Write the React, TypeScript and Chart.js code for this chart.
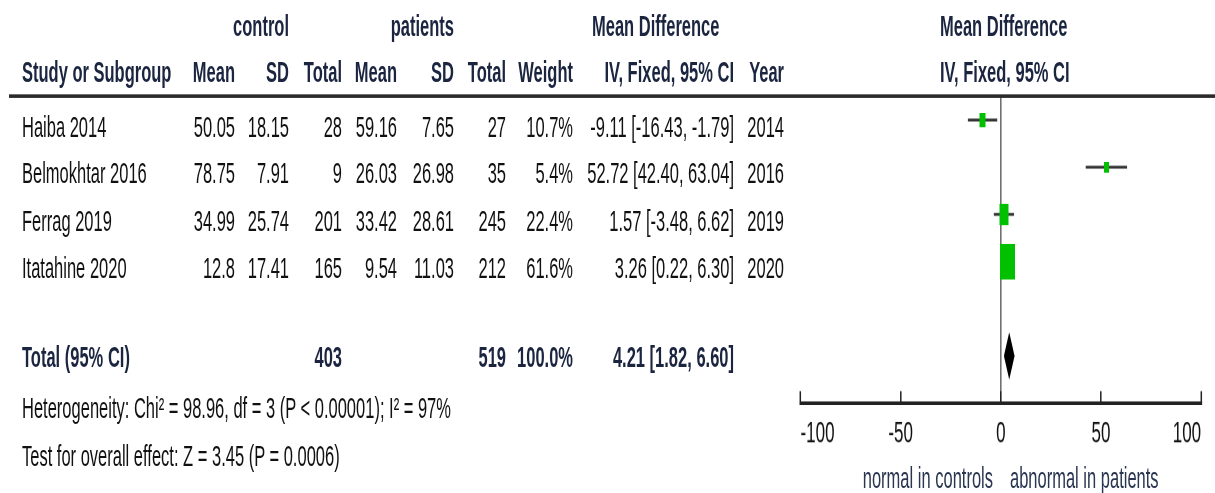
import React, { useEffect, useRef } from "react";
import { Chart, registerables } from "chart.js";

Chart.register(...registerables);

// ---------------- data ----------------
const studies = ["Haiba 2014", "Belmokhtar 2016", "Ferrag 2019", "Itatahine 2020"];
const controlMean = [50.05, 78.75, 34.99, 12.8];
const controlSD = [18.15, 7.91, 25.74, 17.41];
const controlTotal = [28, 9, 201, 165];
const patientMean = [59.16, 26.03, 33.42, 9.54];
const patientSD = [7.65, 26.98, 28.61, 11.03];
const patientTotal = [27, 35, 245, 212];
const weights = [10.7, 5.4, 22.4, 61.6];
const meanDiff = [-9.11, 52.72, 1.57, 3.26];
const ciLow = [-16.43, 42.4, -3.48, 0.22];
const ciHigh = [-1.79, 63.04, 6.62, 6.3];
const years = [2014, 2016, 2019, 2020];

const totalLabel = "Total (95% CI)";
const totalControl = 403;
const totalPatients = 519;
const totalWeight = 100.0;
const pooledMD = 4.21;
const pooledLow = 1.82;
const pooledHigh = 6.6;

const xTicks = [-100, -50, 0, 50, 100];
const heterogeneityText = "Heterogeneity: Chi² = 98.96, df = 3 (P < 0.00001); I² = 97%";
const overallEffectText = "Test for overall effect: Z = 3.45 (P = 0.0006)";
const favoursLeft = "normal in controls";
const favoursRight = "abnormal in patients";

// ---------------- layout ----------------
const FONT = '"Liberation Sans", Arial, Helvetica, sans-serif';
const S = 1.78; // vertical stretch of the whole figure
const W = 1215;
const H = 493;
const CH = H / S;
const FS = 16.5;
const TICK_FS = 17;
const HEAD = "#1b2540";
const GREEN = "#00c000";
const Y_MIN = 0.5;
const Y_MAX = 7;
const AREA_TOP = 96.5; // real px
const AXIS_Y = 403; // real px
const ROW_STEP = (AXIS_Y - AREA_TOP) / (Y_MAX - Y_MIN);
const rowY = (u: number) => AREA_TOP + (u - Y_MIN) * ROW_STEP;
const TOTAL_ROW = studies.length + 2;

const fmt2 = (v: number) => v.toFixed(2);
const ciText = (m: number, l: number, h: number) => `${fmt2(m)} [${fmt2(l)}, ${fmt2(h)}]`;

function Txt(props: {
  x: number;
  y: number;
  align?: "left" | "right";
  bold?: boolean;
  color?: string;
  size?: number;
  children: React.ReactNode;
}) {
  const { x, y, align = "left", bold = false, color = "#111", size = FS, children } = props;
  const style: React.CSSProperties = {
    position: "absolute",
    top: y / S - 0.488 * size,
    whiteSpace: "nowrap",
    fontFamily: FONT,
    fontSize: size,
    lineHeight: `${size}px`,
    fontWeight: bold ? 700 : 400,
    color,
  };
  if (align === "right") style.right = W - x;
  else style.left = x;
  return <div style={style}>{children}</div>;
}

// column right edges (real px)
const COL = {
  name: 22,
  cMean: 235,
  cSD: 289,
  cTotal: 342,
  pMean: 397,
  pSD: 454,
  pTotal: 506,
  weight: 573,
  ci: 734,
  year: 784,
};

export default function App() {
  const ref = useRef<HTMLCanvasElement>(null);

  useEffect(() => {
    if (!ref.current) return;
    const boxImgs = weights.map((w) => {
      const bw = 1.95 * Math.sqrt(w);
      const c = document.createElement("canvas");
      c.width = Math.max(2, Math.round(bw));
      c.height = Math.max(2, Math.round((bw * 2.3) / S));
      const g = c.getContext("2d")!;
      g.fillStyle = GREEN;
      g.fillRect(0, 0, c.width, c.height);
      return c;
    });

    const ciSets: any[] = studies.map((s, i) => ({
      type: "line",
      label: s + " CI",
      data: [
        { x: ciLow[i], y: i + 1 },
        { x: ciHigh[i], y: i + 1 },
      ],
      borderColor: "#333",
      borderWidth: 1.7,
      pointRadius: 0,
      fill: false,
      order: 2,
    }));

    const boxSet: any = {
      type: "scatter",
      label: "Mean difference",
      data: meanDiff.map((m, i) => ({ x: m, y: i + 1 })),
      pointStyle: boxImgs,
      pointRadius: 3,
      showLine: false,
      order: 0,
    };

    const diamondSet: any = {
      type: "line",
      label: "Total",
      data: [
        { x: pooledLow, y: TOTAL_ROW },
        { x: pooledMD, y: TOTAL_ROW - 0.45 },
        { x: pooledHigh, y: TOTAL_ROW },
        { x: pooledMD, y: TOTAL_ROW + 0.45 },
        { x: pooledLow, y: TOTAL_ROW },
      ],
      borderColor: "#000",
      backgroundColor: "#000",
      borderWidth: 1,
      pointRadius: 0,
      fill: "shape",
      order: 1,
    };

    const chart = new Chart(ref.current, {
      type: "scatter",
      data: { datasets: [...ciSets, boxSet, diamondSet] },
      options: {
        animation: false,
        responsive: true,
        maintainAspectRatio: false,
        devicePixelRatio: 2,
        events: [],
        layout: { padding: { left: 800.5, right: W - 1205, top: AREA_TOP / S, bottom: 0 } },
        plugins: { legend: { display: false }, tooltip: { enabled: false } },
        scales: {
          x: {
            type: "linear",
            position: "bottom",
            min: -100,
            max: 100,
            afterBuildTicks: (s: any) => {
              s.ticks = xTicks.map((v) => ({ value: v }));
            },
            afterFit: (s: any) => {
              s.height = CH - AXIS_Y / S;
            },
            ticks: {
              align: "inner",
              padding: 17.4 + 6.7 - 0.6 * TICK_FS,
              autoSkip: false,
              maxRotation: 0,
              color: "#111",
              font: { family: FONT, size: TICK_FS },
            },
            grid: {
              drawOnChartArea: true,
              color: (c: any) => (c.tick && c.tick.value === 0 ? "#707070" : "rgba(0,0,0,0)"),
              lineWidth: 1.6,
              drawTicks: true,
              tickLength: -6.7,
              tickColor: "#222",
              tickWidth: 1.5,
            },
            border: { display: true, color: "#222", width: 2 },
          },
          y: {
            type: "linear",
            display: false,
            reverse: true,
            min: Y_MIN,
            max: Y_MAX,
          },
        },
      } as any,
    });
    return () => chart.destroy();
  }, []);

  const rowText = (i: number) => rowY(i + 1) + 6;
  const totalY = rowY(TOTAL_ROW) + 1;

  return (
    <div style={{ position: "absolute", left: 0, top: 0, width: W, height: H, overflow: "hidden", background: "#fff" }}>
      <div
        style={{
          position: "absolute",
          left: 0,
          top: 0,
          width: W,
          height: CH,
          transform: `scaleY(${S})`,
          transformOrigin: "0 0",
        }}
      >
        <div style={{ position: "absolute", left: 0, top: 0, width: W, height: CH }}>
          <canvas ref={ref} />
        </div>

        {/* header rule */}
        <div
          style={{
            position: "absolute",
            left: 9,
            width: W - 9,
            top: 94.8 / S,
            height: 3.4 / S,
            background: "#2a2a2a",
          }}
        />

        {/* header row 1 */}
        <Txt x={COL.cSD} y={25} align="right" bold color={HEAD}>control</Txt>
        <Txt x={COL.pSD} y={25} align="right" bold color={HEAD}>patients</Txt>
        <Txt x={592} y={25} bold color={HEAD}>Mean Difference</Txt>
        <Txt x={940} y={25} bold color={HEAD}>Mean Difference</Txt>

        {/* header row 2 */}
        <Txt x={COL.name} y={72} bold color={HEAD}>Study or Subgroup</Txt>
        <Txt x={COL.cMean} y={72} align="right" bold color={HEAD}>Mean</Txt>
        <Txt x={COL.cSD} y={72} align="right" bold color={HEAD}>SD</Txt>
        <Txt x={COL.cTotal} y={72} align="right" bold color={HEAD}>Total</Txt>
        <Txt x={COL.pMean} y={72} align="right" bold color={HEAD}>Mean</Txt>
        <Txt x={COL.pSD} y={72} align="right" bold color={HEAD}>SD</Txt>
        <Txt x={COL.pTotal} y={72} align="right" bold color={HEAD}>Total</Txt>
        <Txt x={COL.weight} y={72} align="right" bold color={HEAD}>Weight</Txt>
        <Txt x={COL.ci} y={72} align="right" bold color={HEAD}>IV, Fixed, 95% CI</Txt>
        <Txt x={COL.year} y={72} align="right" bold color={HEAD}>Year</Txt>
        <Txt x={940} y={72} bold color={HEAD}>IV, Fixed, 95% CI</Txt>

        {/* study rows */}
        {studies.map((s, i) => (
          <React.Fragment key={s}>
            <Txt x={COL.name} y={rowText(i)}>{s}</Txt>
            <Txt x={COL.cMean} y={rowText(i)} align="right">{String(controlMean[i])}</Txt>
            <Txt x={COL.cSD} y={rowText(i)} align="right">{String(controlSD[i])}</Txt>
            <Txt x={COL.cTotal} y={rowText(i)} align="right">{String(controlTotal[i])}</Txt>
            <Txt x={COL.pMean} y={rowText(i)} align="right">{String(patientMean[i])}</Txt>
            <Txt x={COL.pSD} y={rowText(i)} align="right">{String(patientSD[i])}</Txt>
            <Txt x={COL.pTotal} y={rowText(i)} align="right">{String(patientTotal[i])}</Txt>
            <Txt x={COL.weight} y={rowText(i)} align="right">{weights[i].toFixed(1) + "%"}</Txt>
            <Txt x={COL.ci} y={rowText(i)} align="right">{ciText(meanDiff[i], ciLow[i], ciHigh[i])}</Txt>
            <Txt x={COL.year} y={rowText(i)} align="right">{String(years[i])}</Txt>
          </React.Fragment>
        ))}

        {/* total row */}
        <Txt x={COL.name} y={totalY} bold color={HEAD}>{totalLabel}</Txt>
        <Txt x={COL.cTotal} y={totalY} align="right" bold color={HEAD}>{String(totalControl)}</Txt>
        <Txt x={COL.pTotal} y={totalY} align="right" bold color={HEAD}>{String(totalPatients)}</Txt>
        <Txt x={COL.weight} y={totalY} align="right" bold color={HEAD}>{totalWeight.toFixed(1) + "%"}</Txt>
        <Txt x={COL.ci} y={totalY} align="right" bold color={HEAD}>{ciText(pooledMD, pooledLow, pooledHigh)}</Txt>

        {/* footer notes */}
        <Txt x={COL.name} y={407}>{heterogeneityText}</Txt>
        <Txt x={COL.name} y={455}>{overallEffectText}</Txt>

        {/* favours labels */}
        <Txt x={993} y={477} align="right" color="#2a3550">{favoursLeft}</Txt>
        <Txt x={1010} y={477} color="#2a3550">{favoursRight}</Txt>
      </div>
    </div>
  );
}
